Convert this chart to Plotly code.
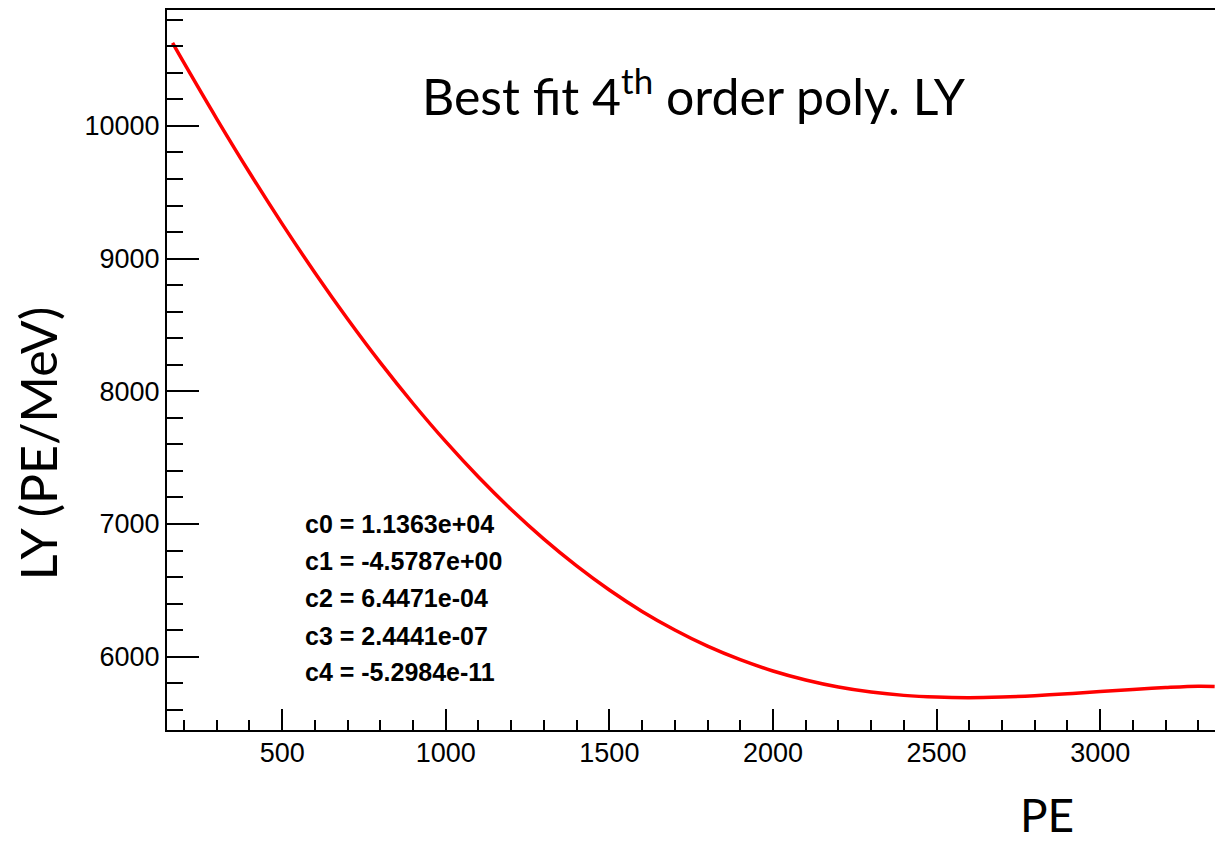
import plotly.graph_objects as go

# Values
pe = [165, 200, 300, 400, 500, 600, 700, 800, 900, 1000, 1100, 1200, 1300, 1400,
      1500, 1600, 1700, 1800, 1900, 2000, 2100, 2200, 2300, 2400, 2500, 2600,
      2700, 2800, 2900, 3000, 3100, 3200, 3300, 3350]
ly = [10626, 10475, 10054, 9649, 9262, 8894, 8545, 8216, 7908, 7620, 7354, 7109,
      6886, 6684, 6502, 6341, 6201, 6079, 5977, 5892, 5824, 5771, 5733, 5708,
      5695, 5691, 5696, 5706, 5720, 5737, 5753, 5767, 5777, 5775]

coef_labels = ["c0 = 1.1363e+04", "c1 = -4.5787e+00", "c2 = 6.4471e-04",
               "c3 = 2.4441e-07", "c4 = -5.2984e-11"]

title_text = "Best fit 4<sup>th</sup> order poly. LY"
x_title = "PE"
y_title = "LY (PE/MeV)"

W, H = 1215, 842
L, R, T, B = 166.7, 0, 10, 112
PW = W - L - R
PH = H - T - B

def px(x):
    return (x - L) / PW

def py(y):
    return 1 - (y - T) / PH

tick_font = dict(family="Liberation Sans, Arial, Helvetica", size=27, color="black")
big_font = dict(family="Lato, Open Sans, sans-serif", size=50, color="black")

fig = go.Figure()
fig.add_trace(go.Scatter(x=pe, y=ly, mode="lines", line=dict(color="#ff0000", width=3.5, shape="spline"),
                         showlegend=False, hoverinfo="skip"))

fig.update_layout(
    width=W, height=H,
    margin=dict(l=L, r=R, t=T, b=B, pad=0),
    paper_bgcolor="white", plot_bgcolor="white",
    showlegend=False,
)
fig.update_xaxes(
    range=[148, 3351], showgrid=False, zeroline=False,
    showline=True, linecolor="black", linewidth=2, mirror=True,
    ticks="inside", ticklen=21, tickwidth=1.5, tickcolor="black",
    tick0=0, dtick=500, tickformat="d", tickfont=tick_font, ticklabelstandoff=-2,
    minor=dict(ticks="inside", ticklen=10, tickwidth=1.5, tickcolor="black", dtick=100, tick0=0, showgrid=False),
)
fig.update_yaxes(
    range=[5447, 10874], showgrid=False, zeroline=False,
    showline=True, linecolor="black", linewidth=2, mirror=False,
    ticks="inside", ticklen=32, tickwidth=1.5, tickcolor="black",
    tick0=0, dtick=1000, tickformat="d", tickfont=tick_font, ticklabelstandoff=0,
    minor=dict(ticks="inside", ticklen=16, tickwidth=1.5, tickcolor="black", dtick=200, tick0=0, showgrid=False),
)

ann = []
ann.append(dict(text=title_text, x=px(694), y=py(92), xref="paper", yref="paper",
                xanchor="center", yanchor="middle", showarrow=False, font=big_font))
ann.append(dict(text=y_title, x=px(38), y=py(443), xref="paper", yref="paper",
                xanchor="center", yanchor="middle", textangle=-90, showarrow=False,
                font=dict(family="Lato, Open Sans, sans-serif", size=50, color="black")))
ann.append(dict(text=x_title, x=px(1047), y=py(814), xref="paper", yref="paper",
                xanchor="center", yanchor="middle", showarrow=False,
                font=dict(family="Lato, Open Sans, sans-serif", size=46, color="black")))
row_y = [523.5, 561, 598, 636, 672]
for lab, yy in zip(coef_labels, row_y):
    ann.append(dict(text="<b>" + lab + "</b>", x=px(303), y=py(yy), xref="paper", yref="paper",
                    xanchor="left", yanchor="middle", showarrow=False,
                    font=dict(family="Liberation Sans, Arial, Helvetica", size=25, color="black")))
fig.update_layout(annotations=ann)

fig.write_html("out.html")
